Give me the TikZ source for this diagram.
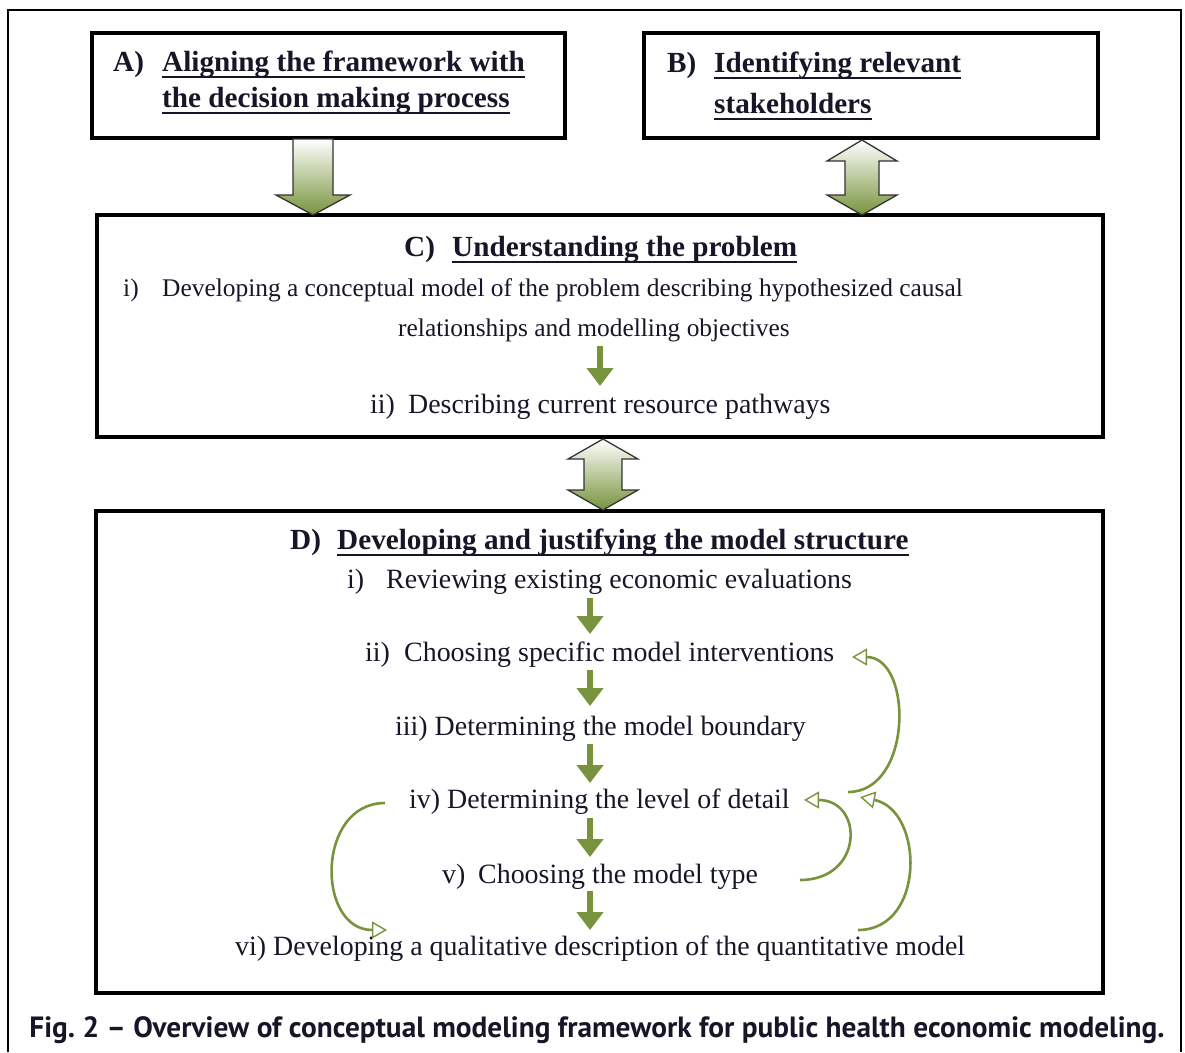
\documentclass[tikz,border=0pt]{standalone}
\usepackage{fontspec}
\setmainfont{Liberation Serif}
\newfontfamily\capfont{PT Sans}
\usetikzlibrary{arrows.meta}
\definecolor{olive}{RGB}{119,147,60}
\definecolor{ink}{RGB}{22,22,40}
\begin{document}
\begin{tikzpicture}[x=1pt,y=-1pt,
  panel/.style={draw=black,line width=4pt},
  head/.style={font=\fontsize{29.2}{34}\selectfont\bfseries, text=ink, inner sep=0pt, anchor=base west},
  body/.style={font=\fontsize{27.9}{32}\selectfont, text=ink, inner sep=0pt, anchor=base west},
  small/.style={body, font=\fontsize{25.4}{30}\selectfont},
  uline/.style={line width=2pt, draw=ink},
  flow/.style={draw=olive, line width=6pt, -{Triangle[length=18pt,width=26pt]}},
  loop/.style={draw=olive, line width=2.6pt, -{Triangle[open,length=15pt,width=17pt,line width=1.4pt]}},
  block/.style={draw=black!80, line width=1.3pt, top color=white, bottom color=olive},
]
\useasboundingbox (0,0) rectangle (1185,1052);

% outer frame
\draw[line width=1.5pt] (8,1052) -- (8,10) -- (1181,10) -- (1181,1052);

% panels
\draw[panel] (92,33) rectangle (565,138);
\draw[panel] (644,33) rectangle (1098,138);
\draw[panel] (97,215) rectangle (1103,437);
\draw[panel] (96,511) rectangle (1103,993);

% block arrows between panels
\path[block] (293,139) -- (333,139) -- (333,195) -- (350,195) -- (313,215)
  -- (276,195) -- (293,195) -- cycle;
\path[block] (862,140) -- (897,161) -- (879,161) -- (879,195) -- (897,195)
  -- (862,215) -- (827,195) -- (845,195) -- (845,161) -- (827,161) -- cycle;
\path[block] (603,439) -- (638,459) -- (622,459) -- (622,490) -- (638,490)
  -- (603,510) -- (568,490) -- (584,490) -- (584,459) -- (568,459) -- cycle;

% panel A
\node[head] (aL) at (113,71) {A)};
\node[head] (a1) at (162,71) {Aligning the framework with};
\node[head] (a2) at (162,107) {the decision making process};
% panel B
\node[head] (bL) at (667,72) {B)};
\node[head] (b1) at (714,72) {Identifying relevant};
\node[head] (b2) at (714,113) {stakeholders};
% panel C
\node[head] (cL) at (404,256) {C)};
\node[head] (c0) at (452,256) {Understanding the problem};
\node[small] (c1L) at (123,296) {i)};
\node[small] (c1) at (162,296) {Developing a conceptual model of the problem describing hypothesized causal};
\node[small] (c1b) at (398,336) {relationships and modelling objectives};
\node[body] (c2L) at (370,413) {ii)};
\node[body] (c2) at (408,413) {Describing current resource pathways};
% panel D
\node[head] (dL) at (290,549) {D)};
\node[head] (d0) at (337,549) {Developing and justifying the model structure};
\node[body] (d1L) at (347,588) {i)};
\node[body] (d1) at (386,588) {Reviewing existing economic evaluations};
\node[body] (d2L) at (365,661) {ii)};
\node[body] (d2) at (404,661) {Choosing specific model interventions};
\node[body] (d3) at (395,735) {iii) Determining the model boundary};
\node[body] (d4) at (409,808) {iv) Determining the level of detail};
\node[body] (d5L) at (442,883) {v)};
\node[body] (d5) at (478,883) {Choosing the model type};
\node[body] (d6) at (235,955) {vi) Developing a qualitative description of the quantitative model};

% underlines of the headings
\foreach \n in {a1,a2,b1,b2,c0,d0}
  \draw[uline] ([yshift=-6pt]\n.base west) -- ([yshift=-6pt]\n.base east);

% straight flow arrows
\coordinate (c1s) at (600,346); \coordinate (c2n) at (600,386);
\coordinate (d1s) at (590,598); \coordinate (d2n) at (590,634);
\coordinate (d2s) at (590,670); \coordinate (d3n) at (590,706);
\coordinate (d3s) at (590,744); \coordinate (d4n) at (590,783);
\coordinate (d4s) at (590,818); \coordinate (d5n) at (590,857);
\coordinate (d5s) at (590,891); \coordinate (d6n) at (590,930);
\foreach \a/\b in {c1s/c2n,d1s/d2n,d2s/d3n,d3s/d4n,d4s/d5n,d5s/d6n}
  \draw[flow] (\a) -- (\b);

% feedback loops
\coordinate (r4) at (848,792); \coordinate (r2) at (852,657);
\coordinate (r5) at (800,880); \coordinate (r4b) at (804,800);
\coordinate (r6) at (858,930); \coordinate (r4c) at (860,797);
\coordinate (l4) at (385,803); \coordinate (l6) at (387,930);
\draw[loop] (r4) .. controls (913,792) and (913,657) .. (r2);
\draw[loop] (r5) .. controls (864,880) and (864,800) .. (r4b);
\draw[loop] (r6) .. controls (926,930) and (924,810) .. (r4c);
\draw[loop] (l4) .. controls (316,803) and (316,930) .. (l6);

% caption
\node[font=\capfont\bfseries\fontsize{29.3}{34}\selectfont, text=ink, inner sep=0pt] (cap) at (597,1030)
  {Fig.~2 – Overview of conceptual modeling framework for public health economic modeling.};
\end{tikzpicture}
\end{document}
